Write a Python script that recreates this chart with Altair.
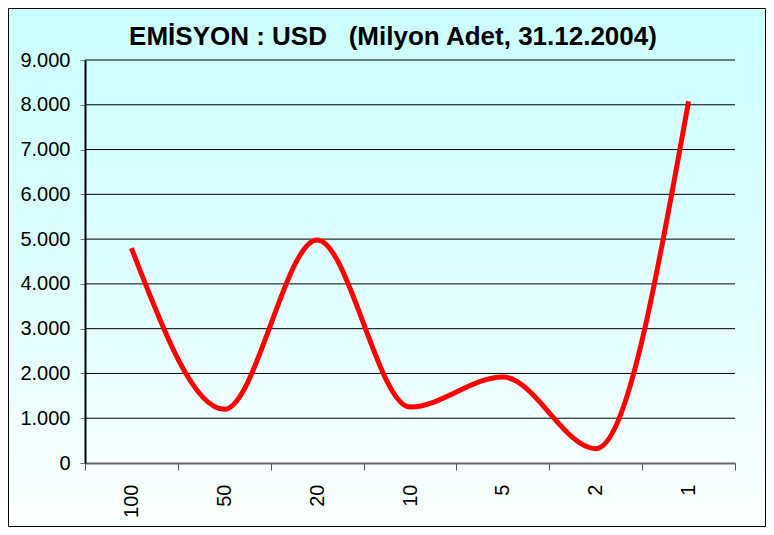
import altair as alt
import pandas as pd

categories = ["100", "50", "20", "10", "5", "2", "1"]
values = [4800, 1200, 4980, 1250, 1920, 320, 8080]
y_ticks = [0, 1000, 2000, 3000, 4000, 5000, 6000, 7000, 8000, 9000]
title_text = "EMİSYON : USD\u00a0\u00a0\u00a0(Milyon Adet, 31.12.2004)"

df = pd.DataFrame({"kupur": categories, "adet": values})
grid_df = pd.DataFrame({"adet": y_ticks[1:]})

W, H = 650, 403
PL, PT, PR, PB = 77, 52, 31, 64

y_scale = alt.Scale(domain=[0, 9000], nice=False)
y_axis = alt.Axis(values=y_ticks,
                  labelExpr="replace(format(datum.value, ',d'), regexp(',', 'g'), '.')",
                  labelFont="Liberation Sans", labelFontSize=20,
                  labelColor="black", labelPadding=10,
                  tickSize=5, tickColor="#777777",
                  domainColor="black", domainWidth=2,
                  grid=False, zindex=1)

bg = alt.Chart(alt.Data(values=[{}])).mark_rect(
    fill=alt.Gradient(
        gradient="linear", x1=0, y1=0, x2=0, y2=1,
        stops=[alt.GradientStop(color="#ccffff", offset=0),
               alt.GradientStop(color="#dcffff", offset=0.45),
               alt.GradientStop(color="#fbffff", offset=1)]),
    stroke="black", strokeWidth=1,
).encode(
    x=alt.value(-PL + 0.5), x2=alt.value(W + PR - 0.5),
    y=alt.value(-PT + 0.5), y2=alt.value(H + PB - 0.5),
)

grid = alt.Chart(grid_df).mark_rule(color="black", strokeWidth=1).encode(
    y=alt.Y("adet:Q", scale=y_scale, title=None, axis=y_axis),
)

line = alt.Chart(df).mark_line(
    color="#ff0000", strokeWidth=5, interpolate="monotone",
).encode(
    x=alt.X("kupur:N", sort=categories, title=None,
            scale=alt.Scale(paddingInner=0, paddingOuter=0),
            axis=alt.Axis(labelAngle=-90, labelFont="Liberation Sans",
                          labelFontSize=20, labelColor="black",
                          labelPadding=14, tickSize=7, tickColor="#555555",
                          tickBand="extent", bandPosition=0,
                          domainColor="#666666", domainWidth=2, grid=False,
                          labelAlign="right", labelBaseline="middle",
                          zindex=1)),
    y=alt.Y("adet:Q", title=None, scale=y_scale, axis=y_axis),
)

chart = alt.layer(bg, grid, line).properties(
    width=W, height=H,
    autosize=alt.AutoSizeParams(type="none"),
    padding={"left": PL, "top": PT, "right": PR, "bottom": PB},
    title=alt.TitleParams(title_text, font="Liberation Sans", fontSize=26,
                          fontWeight="bold", color="black", anchor="middle",
                          frame="group", baseline="alphabetic", offset=-63, dx=-17,
                          zindex=1),
).configure_view(stroke="#777777", strokeWidth=1)

chart.save("out.html", embed_options={"renderer": "svg", "actions": False})
